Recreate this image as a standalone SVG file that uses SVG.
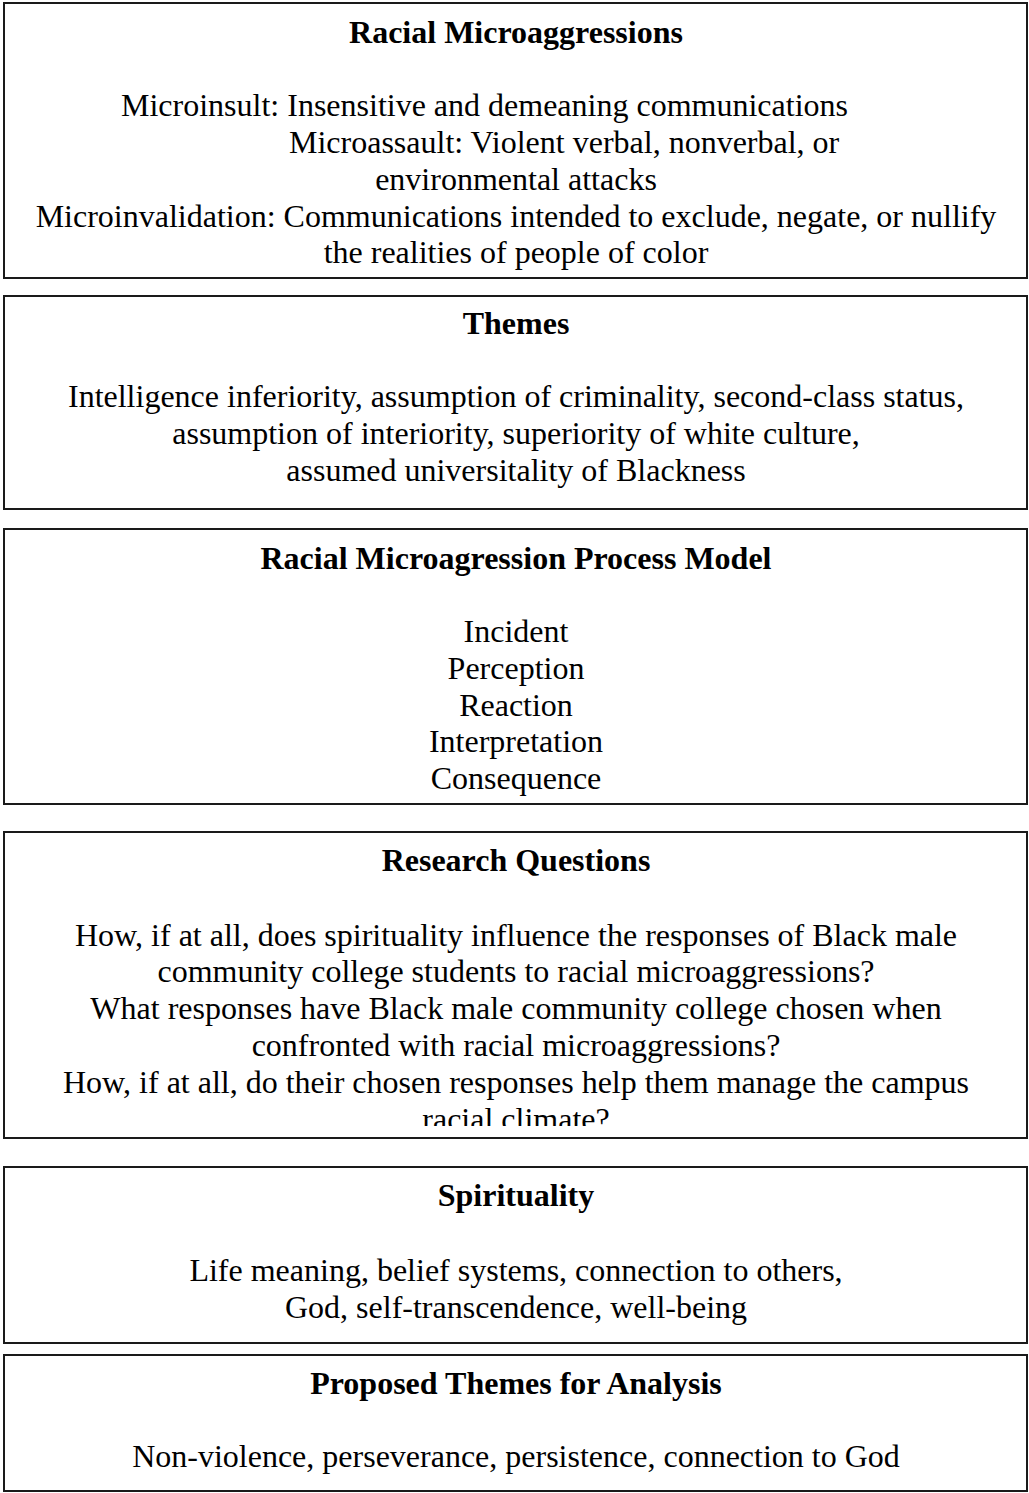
<svg xmlns="http://www.w3.org/2000/svg" width="1029" height="1493" viewBox="0 0 1029 1493">
<style>
.box{fill:#fff;stroke:#1a1a1a;stroke-width:2}
text{font-family:"Liberation Serif","Times New Roman",serif;font-size:32px;fill:#000}
.t{font-weight:bold;text-anchor:middle}
.c{text-anchor:middle}
</style>
<defs>
<clipPath id="clip4"><rect x="0" y="832" width="1029" height="294"/></clipPath>
</defs>
<rect width="1029" height="1493" fill="#fff"/>
<g id="box-racial-microaggressions">
<rect class="box" x="4" y="3" width="1023" height="275"/>
<text class="t" x="516" y="43">Racial Microaggressions</text>
<text x="121" y="116">Microinsult: Insensitive and demeaning communications</text>
<text x="289" y="153">Microassault: Violent verbal, nonverbal, or</text>
<text class="c" x="516" y="190">environmental attacks</text>
<text class="c" x="516" y="227">Microinvalidation: Communications intended to exclude, negate, or nullify</text>
<text class="c" x="516" y="263">the realities of people of color</text>
</g>
<g id="box-themes">
<rect class="box" x="4" y="296" width="1023" height="213"/>
<text class="t" x="516" y="334">Themes</text>
<text class="c" x="516" y="407">Intelligence inferiority, assumption of criminality, second-class status,</text>
<text class="c" x="516" y="444">assumption of interiority, superiority of white culture,</text>
<text class="c" x="516" y="481">assumed universitality of Blackness</text>
</g>
<g id="box-process-model">
<rect class="box" x="4" y="529" width="1023" height="275"/>
<text class="t" x="516" y="569">Racial Microagression Process Model</text>
<text class="c" x="516" y="642">Incident</text>
<text class="c" x="516" y="679">Perception</text>
<text class="c" x="516" y="716">Reaction</text>
<text class="c" x="516" y="752">Interpretation</text>
<text class="c" x="516" y="789">Consequence</text>
</g>
<g id="box-research-questions">
<rect class="box" x="4" y="832" width="1023" height="306"/>
<text class="t" x="516" y="871">Research Questions</text>
<text class="c" x="516" y="946">How, if at all, does spirituality influence the responses of Black male</text>
<text class="c" x="516" y="982">community college students to racial microaggressions?</text>
<text class="c" x="516" y="1019">What responses have Black male community college chosen when</text>
<text class="c" x="516" y="1056">confronted with racial microaggressions?</text>
<text class="c" x="516" y="1093">How, if at all, do their chosen responses help them manage the campus</text>
<text class="c" x="516" y="1130" clip-path="url(#clip4)">racial climate?</text>
</g>
<g id="box-spirituality">
<rect class="box" x="4" y="1167" width="1023" height="176"/>
<text class="t" x="516" y="1206">Spirituality</text>
<text class="c" x="516" y="1281">Life meaning, belief systems, connection to others,</text>
<text class="c" x="516" y="1318">God, self-transcendence, well-being</text>
</g>
<g id="box-proposed-themes">
<rect class="box" x="4" y="1355" width="1023" height="136"/>
<text class="t" x="516" y="1394">Proposed Themes for Analysis</text>
<text class="c" x="516" y="1467">Non-violence, perseverance, persistence, connection to God</text>
</g>
<g id="connectors"/>
</svg>
